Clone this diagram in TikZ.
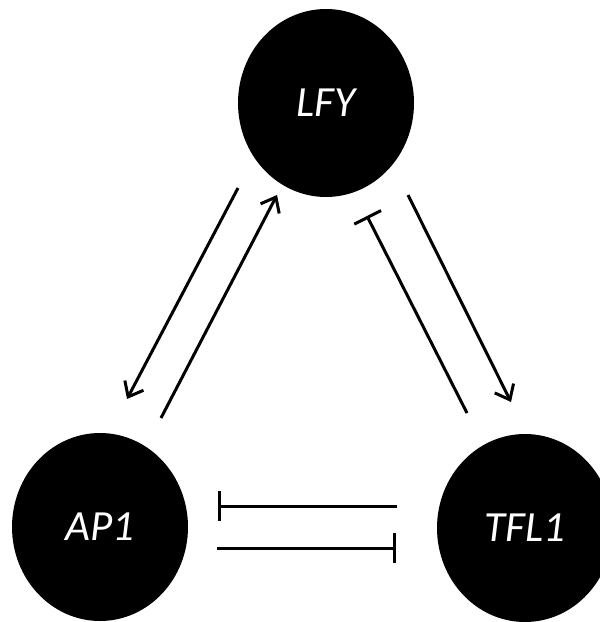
\documentclass[tikz,border=0pt]{standalone}
\usepackage{fontspec}
\setmainfont{Carlito}
\usetikzlibrary{arrows.meta,shapes.geometric}
\begin{document}
\begin{tikzpicture}[x=1pt,y=-1pt,
  gene/.style={ellipse,fill=black,draw=none,minimum width=176pt,minimum height=188pt,inner sep=0pt,
    text=white,font=\fontsize{43}{48}\selectfont\itshape},
  link/.style={line width=3pt,black},
  act/.style={link,-{Straight Barb[length=13pt,width=21pt]}},
  inh/.style={link,-{Bar[width=30pt]}}]
\useasboundingbox (0,0) rectangle (600,622);
\node[gene] (LFY) at (326,103) {LFY};
\node[gene] (AP1) at (100,527) {AP1};
\node[gene] (TFL1) at (525,528) {TFL1};
\coordinate (a1s) at (238,188);
\coordinate (a1e) at (127,399);
\coordinate (a2s) at (161,418);
\coordinate (a2e) at (277,195);
\coordinate (i1s) at (467,413);
\coordinate (i1e) at (367,216);
\coordinate (a3s) at (408,195);
\coordinate (a3e) at (511,402);
\coordinate (h1s) at (397,506);
\coordinate (h1e) at (218,506);
\coordinate (h2s) at (217,548);
\coordinate (h2e) at (396,548);
\draw[act] (a1s) -- (a1e);
\draw[act] (a2s) -- (a2e);
\draw[inh] (i1s) -- (i1e);
\draw[act] (a3s) -- (a3e);
\draw[inh] (h1s) -- (h1e);
\draw[inh] (h2s) -- (h2e);
\end{tikzpicture}
\end{document}
